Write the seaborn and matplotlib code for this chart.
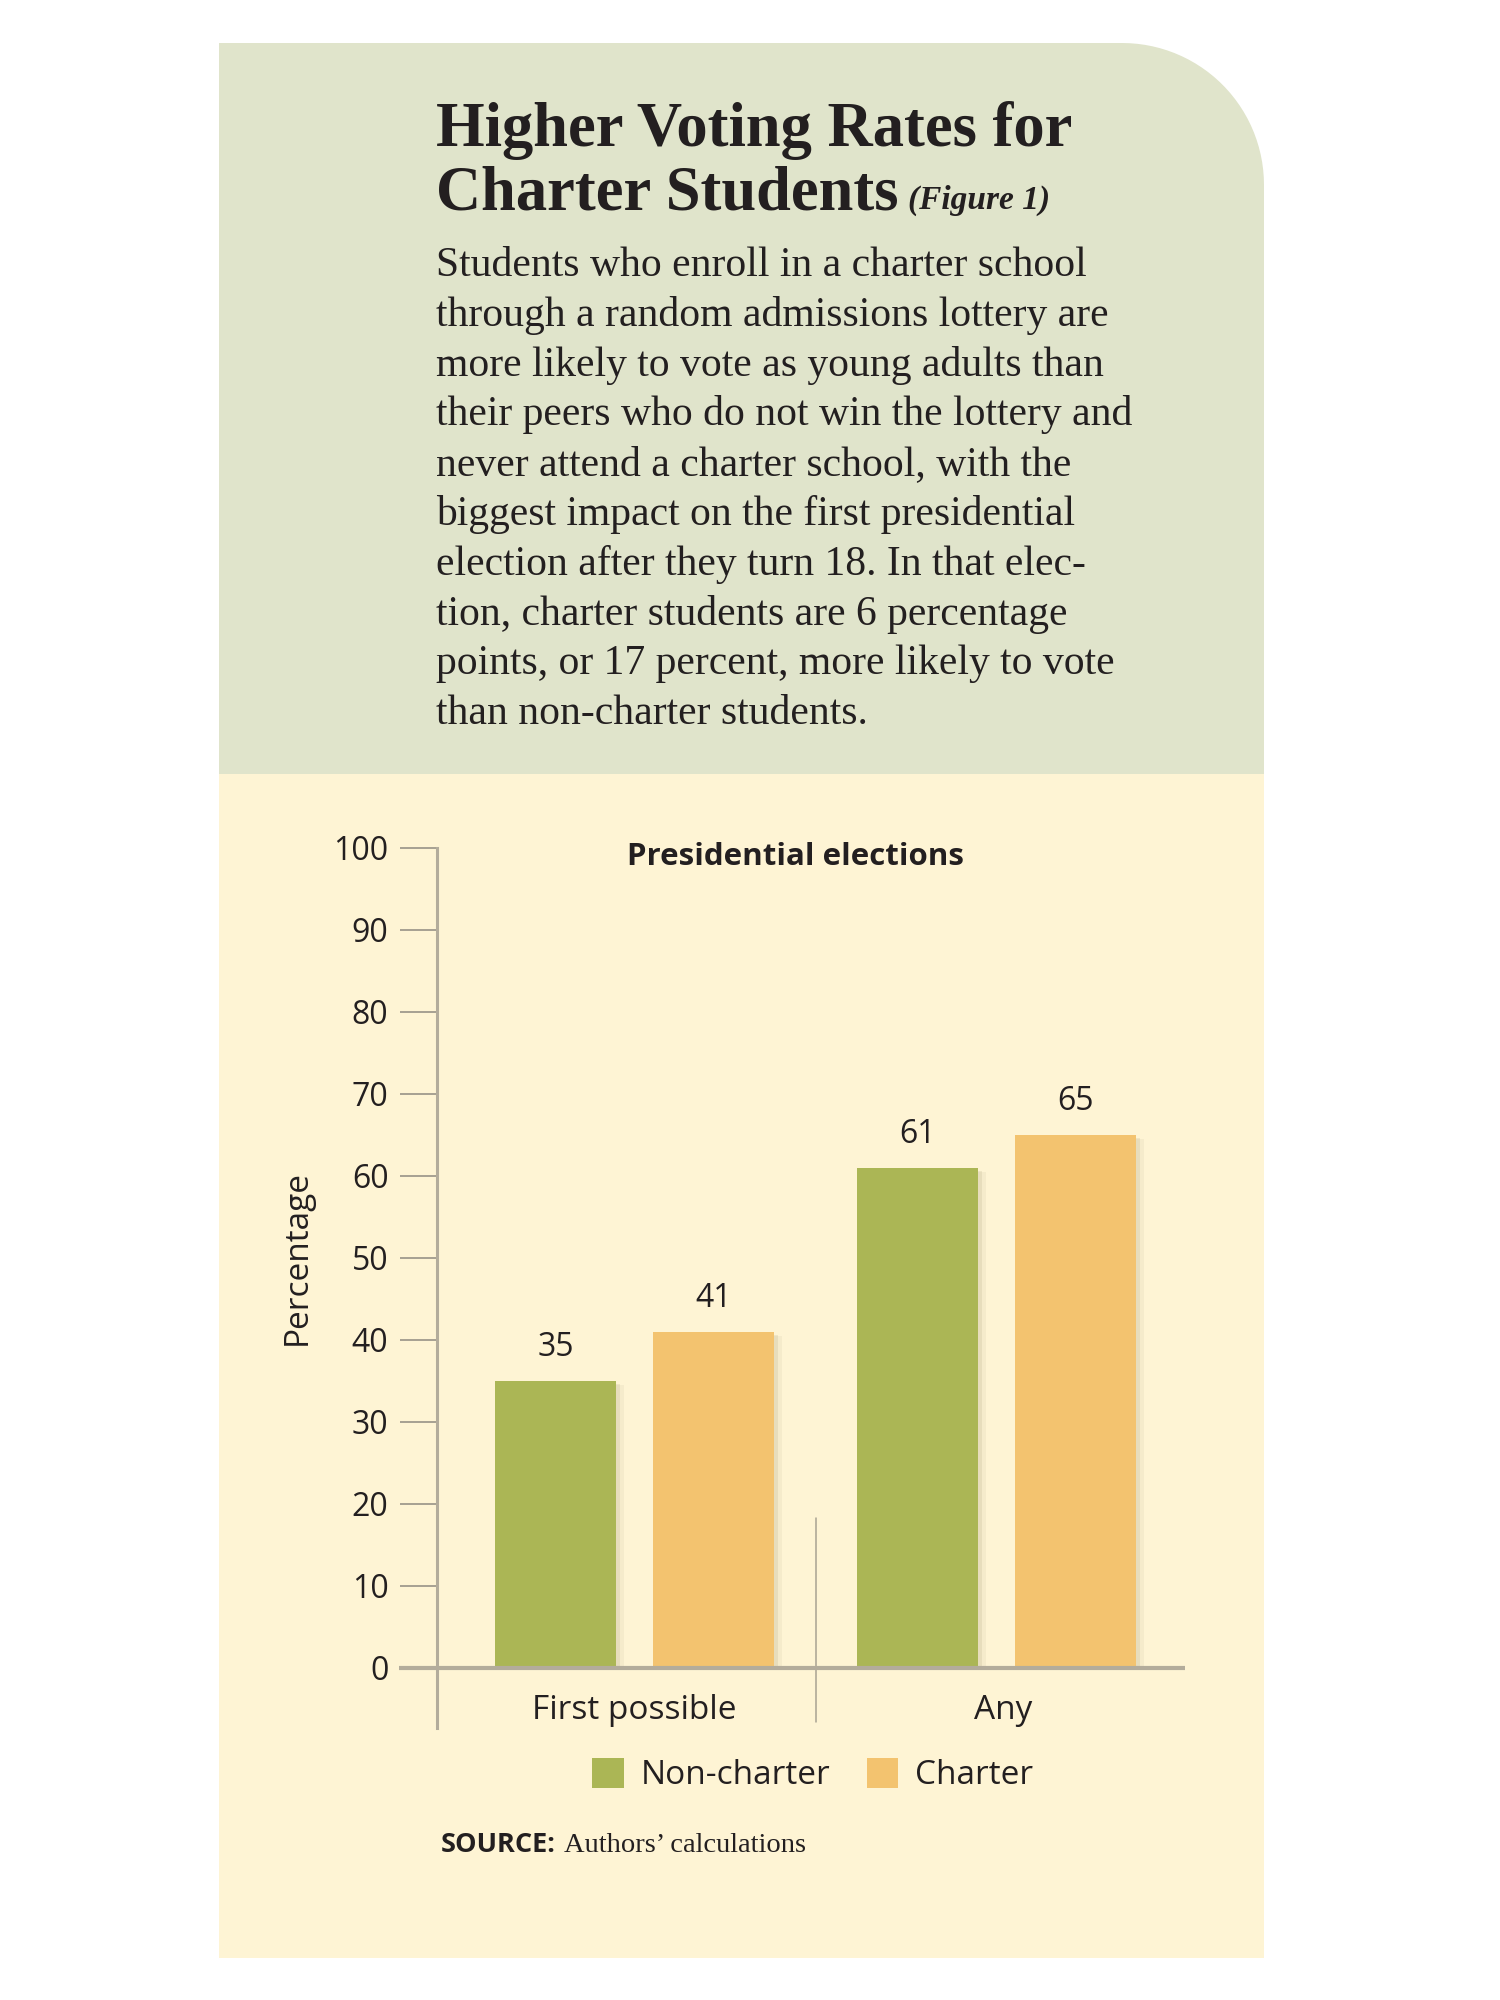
import numpy as np
import pandas as pd
import matplotlib
matplotlib.use("Agg")
import matplotlib.pyplot as plt
import seaborn as sns
from matplotlib.path import Path
from matplotlib.patches import PathPatch, Rectangle, Patch
from matplotlib.transforms import ScaledTranslation
import matplotlib.patheffects as pe

# ---------------- data ----------------
elections = ["First possible", "Any"]
groups = ["Non-charter", "Charter"]
non_charter = [35, 61]
charter = [41, 65]
yticks = [0, 10, 20, 30, 40, 50, 60, 70, 80, 90, 100]

title_lines = ["Higher Voting Rates for", "Charter Students"]
title_suffix = "(Figure 1)"
body_lines = [
    "Students who enroll in a charter school",
    "through a random admissions lottery are",
    "more likely to vote as young adults than",
    "their peers who do not win the lottery and",
    "never attend a charter school, with the",
    "biggest impact on the first presidential",
    "election after they turn 18. In that elec-",
    "tion, charter students are 6 percentage",
    "points, or 17 percent, more likely to vote",
    "than non-charter students.",
]
chart_title = "Presidential elections"
y_label = "Percentage"
source_bold = "SOURCE:"
source_text = "Authors\u2019 calculations"

df = pd.DataFrame({
    "election": elections * 2,
    "group": [groups[0]] * 2 + [groups[1]] * 2,
    "pct": non_charter + charter,
})

GREEN = "#abb655"
ORANGE = "#f3c36f"
HEADER_BG = "#e0e4cb"
BODY_BG = "#fef4d4"
TXT = "#231f20"
AXIS_GRAY = "#b3ac9b"
TICK_GRAY = "#8f8a80"

sns.set_theme(style="white")
plt.rcParams["font.family"] = ["Open Sans", "DejaVu Sans"]

W, H = 1500, 2000
fig = plt.figure(figsize=(15, 20), dpi=100)
fig.patch.set_facecolor("white")

def fx(x):
    return x / W

def fy(y):
    return 1 - y / H

# ---------------- background panels ----------------
L, R, T, MID, B = 219, 1264, 43, 774, 1958
RAD = 142
ang = np.linspace(np.pi / 2, 0, 30)
arc = [(R - RAD + RAD * np.cos(a), T + RAD - RAD * np.sin(a)) for a in ang]
verts = [(L, MID), (L, T)] + arc + [(R, MID), (L, MID)]
verts_f = [(fx(x), fy(y)) for x, y in verts]
codes = [Path.MOVETO] + [Path.LINETO] * (len(verts_f) - 2) + [Path.CLOSEPOLY]
fig.patches.append(PathPatch(Path(verts_f, codes), transform=fig.transFigure,
                             facecolor=HEADER_BG, edgecolor="none", zorder=-5))
fig.patches.append(Rectangle((fx(L), fy(B)), fx(R - L), fy(MID) - fy(B),
                             transform=fig.transFigure, facecolor=BODY_BG,
                             edgecolor="none", zorder=-5))

# ---------------- header text ----------------
serif = ["Liberation Serif", "DejaVu Serif"]
tx = 436
fig.text(fx(tx), fy(146), title_lines[0], family=serif, weight="bold",
         fontsize=45, color=TXT, va="baseline", ha="left")
t2 = fig.text(fx(tx), fy(209), title_lines[1], family=serif, weight="bold",
              fontsize=45, color=TXT, va="baseline", ha="left")
fig.canvas.draw()
bb = t2.get_window_extent()
fig.text(bb.x1 / W + fx(10), fy(209), title_suffix, family=serif,
         style="italic", weight="bold", fontsize=24, color=TXT,
         va="baseline", ha="left")

for i, line in enumerate(body_lines):
    fig.text(fx(tx), fy(276 + i * 49.8), line, family=serif, fontsize=30,
             color=TXT, va="baseline", ha="left")

# ---------------- chart ----------------
ax_l, ax_r, ax_b, ax_t = 437, 1185, 1668, 848
ax = fig.add_axes([fx(ax_l), fy(ax_b), fx(ax_r - ax_l), fy(ax_t) - fy(ax_b)])
ax.set_facecolor("none")

sns.barplot(data=df, x="election", y="pct", hue="group", hue_order=groups,
            order=elections, palette=[GREEN, ORANGE], width=0.873, gap=0.234,
            saturation=1, ax=ax, legend=False, zorder=3)

for patch in ax.patches:
    patch.set_edgecolor("none")
    patch.set_path_effects([
        pe.SimplePatchShadow(offset=(6, -3), shadow_rgbFace="#8a7d55", alpha=0.07),
        pe.SimplePatchShadow(offset=(3, -2), shadow_rgbFace="#8a7d55", alpha=0.12),
        pe.Normal()])

ax.set_xlim(-0.5456, 1.5207)
ax.set_ylim(0, 100)
ax.set_yticks(yticks)
ax.set_yticklabels([str(v) for v in yticks], fontsize=23, color=TXT)
ax.tick_params(axis="y", length=27, width=1.1, color=TICK_GRAY, pad=8, left=True)
ax.set_xticks(range(len(elections)))
ax.set_xticklabels(elections, fontsize=24, color=TXT)
ax.tick_params(axis="x", length=0, pad=19)
ax.set_xlabel("")
ax.set_ylabel(y_label, fontsize=24, color=TXT, labelpad=14)
# "Any" sits slightly right of its group centre in the original
lab = ax.get_xticklabels()[1]
lab.set_transform(lab.get_transform() + ScaledTranslation(0.07, 0, fig.dpi_scale_trans))

for s in ["top", "right", "bottom"]:
    ax.spines[s].set_visible(False)
ax.spines["left"].set_color(AXIS_GRAY)
ax.spines["left"].set_linewidth(2.2)
ax.spines["left"].set_bounds(-7.3, 100)
ax.spines["left"].set_zorder(4)

# baseline at zero, extended over tick length
ax.plot([-(ax_l - 399) / (ax_r - ax_l), 1], [0, 0], transform=ax.get_yaxis_transform(),
        color=AXIS_GRAY, lw=3, clip_on=False, zorder=5, solid_capstyle="butt")
# group divider
ax.plot([0.5, 0.5], [18.3, -6.6], color="#a9a292", lw=1.1, clip_on=False, zorder=2)

# value labels
for cont in ax.containers:
    ax.bar_label(cont, fmt="%d", padding=12, fontsize=23, color=TXT)

ax.text(0.479, 0.989, chart_title, transform=ax.transAxes, ha="center", va="center",
        fontsize=22.5, weight="bold", color=TXT)

# legend
handles = [Patch(facecolor=GREEN, edgecolor="none"), Patch(facecolor=ORANGE, edgecolor="none")]
fig.legend(handles, groups, loc="upper left", bbox_to_anchor=(fx(592), fy(1758)),
           ncol=2, frameon=False, fontsize=24, handlelength=0.95, handleheight=1.0,
           handletextpad=0.5, columnspacing=1.1, borderpad=0, borderaxespad=0,
           labelcolor=TXT)

# source
s1 = fig.text(fx(441), fy(1845), source_bold, fontsize=19.5, weight="bold",
              color=TXT, va="center", ha="left")
fig.canvas.draw()
b1 = s1.get_window_extent()
fig.text(b1.x1 / W + fx(8), fy(1845), source_text, family=serif, fontsize=20.5,
         color=TXT, va="center", ha="left")

fig.savefig("out.png", dpi=100, facecolor="white")
